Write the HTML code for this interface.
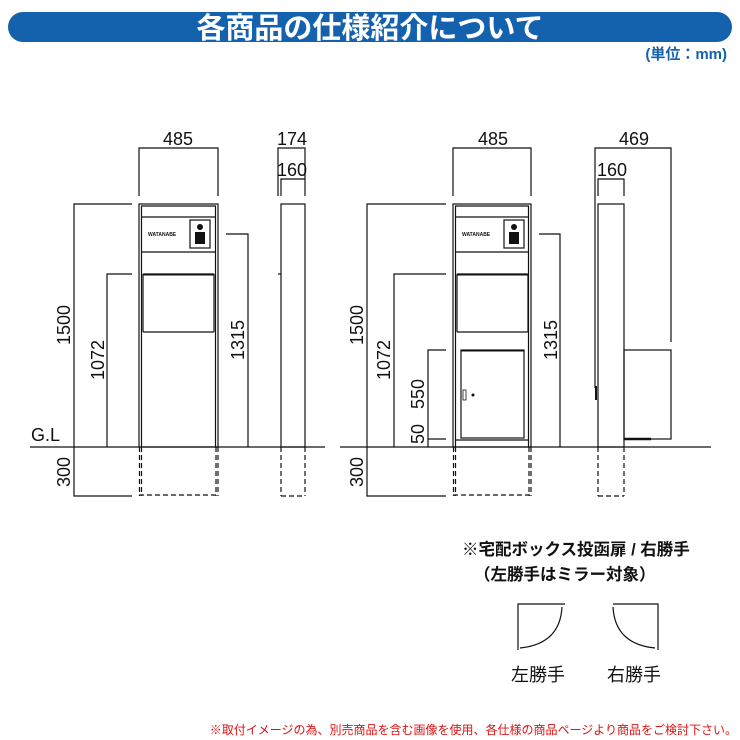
<!DOCTYPE html>
<html><head><meta charset="utf-8"><style>
html,body{margin:0;padding:0;background:#fff}
svg{display:block}
.n{font-family:"Liberation Sans Narrow","Liberation Sans",sans-serif;font-size:18px;fill:#111}
.j{font-family:"Liberation Sans","Noto Sans CJK JP",sans-serif}
</style></head><body>
<svg width="740" height="740" viewBox="0 0 740 740" xmlns="http://www.w3.org/2000/svg">
<rect x="8" y="12" width="724" height="30" rx="15" fill="#1462ae"/>
<text x="370" y="38" text-anchor="middle" class="j" font-size="29" font-weight="bold" fill="#fff">各商品の仕様紹介について</text>
<text x="727" y="59" text-anchor="end" class="j" font-size="15" font-weight="bold" fill="#1462ae">(単位：mm)</text>

<g stroke="#111" stroke-width="1.2" fill="none">
<polyline points="139,196 139,148 218,148 218,196"/>
<rect x="139" y="204" width="79" height="243"/>
<line x1="141.5" y1="206" x2="141.5" y2="447"/><line x1="215.5" y1="206" x2="215.5" y2="447"/>
<line x1="141" y1="206" x2="216" y2="206"/>
<line x1="141" y1="217" x2="216" y2="217"/><line x1="141" y1="252" x2="216" y2="252"/>
<rect x="190" y="220" width="20" height="28"/>
<rect x="143" y="274" width="71" height="58" rx="1"/>
<line x1="143" y1="274.5" x2="214" y2="274.5" stroke-width="2"/>
<polyline points="132,204 74,204 74,496 132,496"/>
<polyline points="132,274 107,274 107,447"/>
<polyline points="226,234 248,234 248,447"/>
<line x1="30" y1="447" x2="325" y2="447"/>
<g stroke-dasharray="5,3"><line x1="139.5" y1="447" x2="139.5" y2="496"/><line x1="141.5" y1="447" x2="141.5" y2="496"/><line x1="216" y1="447" x2="216" y2="496"/><line x1="218" y1="447" x2="218" y2="496"/><line x1="139" y1="495" x2="218" y2="495"/>
<line x1="281" y1="447" x2="281" y2="496"/><line x1="305" y1="447" x2="305" y2="496"/><line x1="281" y1="496" x2="305" y2="496"/></g>
<polyline points="278,196 278,148 305,148 305,196"/>
<polyline points="281,196 281,179 305,179"/>
<rect x="281" y="204" width="24" height="243"/>
<line x1="278" y1="274" x2="281" y2="274"/>

<polyline points="453,196 453,148 531,148 531,196"/>
<rect x="453" y="204" width="78" height="243"/>
<line x1="455.5" y1="206" x2="455.5" y2="447"/><line x1="528.5" y1="206" x2="528.5" y2="447"/>
<line x1="455" y1="206" x2="529" y2="206"/>
<line x1="455" y1="217" x2="529" y2="217"/><line x1="455" y1="252" x2="529" y2="252"/>
<rect x="504" y="220" width="20" height="28"/>
<rect x="457" y="274" width="71" height="58" rx="1"/>
<line x1="457" y1="274.5" x2="528" y2="274.5" stroke-width="2"/>
<rect x="461" y="350" width="63" height="88"/>
<line x1="461" y1="350.5" x2="524" y2="350.5" stroke-width="2"/>
<rect x="463" y="390" width="3" height="10" stroke-width="0.8"/>
<line x1="455" y1="440" x2="529" y2="440"/>
<polyline points="446,204 367,204 367,496 446,496"/>
<polyline points="446,274 394,274 394,447"/>
<polyline points="446,350 428,350 428,447"/>
<line x1="428" y1="439" x2="446" y2="439"/>
<polyline points="539,234 560,234 560,447"/>
<line x1="340" y1="447" x2="711" y2="447"/>
<g stroke-dasharray="5,3"><line x1="453.5" y1="447" x2="453.5" y2="496"/><line x1="455.5" y1="447" x2="455.5" y2="496"/><line x1="529" y1="447" x2="529" y2="496"/><line x1="531" y1="447" x2="531" y2="496"/><line x1="453" y1="495" x2="531" y2="495"/>
<line x1="598" y1="447" x2="598" y2="496"/><line x1="624" y1="447" x2="624" y2="496"/><line x1="598" y1="496" x2="624" y2="496"/></g>
<polyline points="595,388 595,148 671,148 671,342"/>
<polyline points="598,196 598,179 624,179 624,196"/>
<rect x="598" y="204" width="26" height="243"/>
<rect x="624" y="350" width="47" height="89"/>
<line x1="624" y1="439" x2="651" y2="439" stroke-width="2.5"/>

<polyline points="565,604 518,604 518,650"/>
<path d="M562,607 Q560,644 520,648"/>
<polyline points="613,604 658,604 658,650"/>
<path d="M613,607 Q615,644 655,648"/>
</g>
<g fill="#111">
<text x="148" y="236" font-family="Liberation Sans" font-size="5" font-weight="bold">WATANABE</text>
<text x="462" y="236" font-family="Liberation Sans" font-size="5" font-weight="bold">WATANABE</text>
<circle cx="200" cy="227" r="3"/><rect x="195" y="232" width="10" height="12"/>
<circle cx="514" cy="227" r="3"/><rect x="509" y="232" width="10" height="12"/>
<circle cx="473" cy="395" r="1.5"/>
<rect x="595" y="386" width="2" height="14"/>
</g>
<g class="n">
<text x="178" y="145" text-anchor="middle">485</text>
<text x="292" y="145" text-anchor="middle">174</text>
<text x="292" y="176" text-anchor="middle">160</text>
<text x="493" y="145" text-anchor="middle">485</text>
<text x="634" y="145" text-anchor="middle">469</text>
<text x="612" y="176" text-anchor="middle">160</text>
<text x="31" y="441">G.L</text>
<text transform="translate(70,325) rotate(-90)" text-anchor="middle">1500</text>
<text transform="translate(104,360) rotate(-90)" text-anchor="middle">1072</text>
<text transform="translate(244,340) rotate(-90)" text-anchor="middle">1315</text>
<text transform="translate(70,472) rotate(-90)" text-anchor="middle">300</text>
<text transform="translate(363,325) rotate(-90)" text-anchor="middle">1500</text>
<text transform="translate(390,360) rotate(-90)" text-anchor="middle">1072</text>
<text transform="translate(424,394) rotate(-90)" text-anchor="middle">550</text>
<text transform="translate(424,434) rotate(-90)" text-anchor="middle">50</text>
<text transform="translate(557,340) rotate(-90)" text-anchor="middle">1315</text>
<text transform="translate(363,472) rotate(-90)" text-anchor="middle">300</text>
</g>
<g class="j" fill="#111">
<text x="462" y="555" font-size="16.5" font-weight="bold">※宅配ボックス投函扉 / 右勝手</text>
<text x="474" y="580" font-size="16.5" font-weight="bold">（左勝手はミラー対象）</text>
<text x="538" y="681" font-size="18" text-anchor="middle">左勝手</text>
<text x="634" y="681" font-size="18" text-anchor="middle">右勝手</text>
</g>
<text x="737" y="734" text-anchor="end" class="j" font-size="12" fill="#d11">※取付イメージの為、別売商品を含む画像を使用、各仕様の商品ページより商品をご検討下さい。</text>
</svg>
</body></html>
